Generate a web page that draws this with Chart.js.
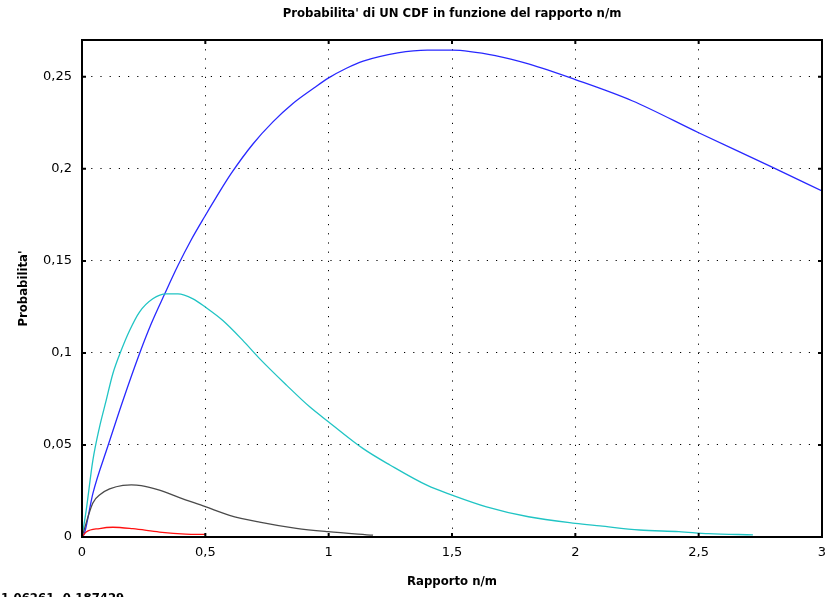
<!DOCTYPE html>
<html>
<head>
<meta charset="utf-8">
<script src="https://cdn.jsdelivr.net/npm/chart.js@4"></script>
<style>body{margin:0;background:#fff}</style>
</head>
<body>
<canvas id="myChart" width="827" height="597"></canvas>
<script>
let titolo = "Probabilita' di UN CDF in funzione del rapporto n/m"
let xTicks = [0, 0.5, 1, 1.5, 2, 2.5, 3]
let yTicks = [0, 0.05, 0.1, 0.15, 0.2, 0.25]

// curve (x = rapporto n/m, y = probabilita')
let blueX = [0, 0.01, 0.044, 0.105, 0.166, 0.233, 0.281, 0.335, 0.389, 0.443, 0.497, 0.544, 0.605, 0.693, 0.774, 0.855, 0.936, 1.0, 1.07, 1.14, 1.28, 1.4, 1.5, 1.68, 1.81, 2.0, 2.23, 2.5, 2.8, 3.0]
let blueY = [0, 0.002, 0.0236, 0.0494, 0.0742, 0.0996, 0.116, 0.132, 0.1475, 0.1615, 0.174, 0.1845, 0.1975, 0.2135, 0.2255, 0.2355, 0.2435, 0.2494, 0.2545, 0.2585, 0.263, 0.2645, 0.2645, 0.2614, 0.257, 0.2485, 0.237, 0.2196, 0.2008, 0.188]

let cyanX = [0, 0.017, 0.044, 0.071, 0.098, 0.125, 0.159, 0.193, 0.233, 0.287, 0.342, 0.389, 0.45, 0.5, 0.571, 0.652, 0.72, 0.829, 0.923, 1.0, 1.14, 1.25, 1.4, 1.5, 1.64, 1.81, 2.0, 2.1, 2.26, 2.42, 2.54, 2.72]
let cyanY = [0, 0.0145, 0.0416, 0.0597, 0.0742, 0.0887, 0.1014, 0.1122, 0.1222, 0.1294, 0.1321, 0.1321, 0.1294, 0.1249, 0.1176, 0.1068, 0.0969, 0.0825, 0.0707, 0.0625, 0.048, 0.039, 0.028, 0.0228, 0.0164, 0.011, 0.0074, 0.006, 0.0038, 0.0029, 0.0018, 0.0012]

let blackX = [0, 0.044, 0.075, 0.112, 0.166, 0.2, 0.24, 0.314, 0.395, 0.5, 0.598, 0.72, 0.869, 0.997, 1.18]
let blackY = [0, 0.0185, 0.0232, 0.0261, 0.0281, 0.0283, 0.0279, 0.0254, 0.0214, 0.0165, 0.0118, 0.0081, 0.0047, 0.0029, 0.001]

let redX = [0, 0.017, 0.071, 0.125, 0.206, 0.314, 0.42, 0.5]
let redY = [0, 0.0027, 0.0046, 0.0053, 0.0045, 0.0027, 0.0016, 0.0014]

function punti(xs, ys) {
  return xs.map((x, i) => ({x: x, y: ys[i]}))
}

function serie(nome, xs, ys, colore) {
  return {
    label: nome,
    data: punti(xs, ys),
    borderColor: colore,
    backgroundColor: colore,
    borderWidth: 1.3,
    pointRadius: 0,
    showLine: true,
    cubicInterpolationMode: 'monotone'
  }
}

function virgola(v) {
  return String(+v.toFixed(2)).replace('.', ',')
}

// riquadro, tacche interne e testi stile octave
let octavePlugin = {
  id: 'octave',
  afterDraw(chart) {
    let ctx = chart.ctx
    let a = chart.chartArea
    let sx = chart.scales.x
    let sy = chart.scales.y
    ctx.save()
    ctx.strokeStyle = '#000'
    ctx.lineWidth = 2
    ctx.strokeRect(a.left, a.top, a.right - a.left, a.bottom - a.top)
    ctx.beginPath()
    xTicks.forEach(v => {
      let px = sx.getPixelForValue(v)
      ctx.moveTo(px, a.bottom); ctx.lineTo(px, a.bottom - 4)
      ctx.moveTo(px, a.top); ctx.lineTo(px, a.top + 4)
    })
    yTicks.forEach(v => {
      let py = sy.getPixelForValue(v)
      ctx.moveTo(a.left, py); ctx.lineTo(a.left + 4, py)
      ctx.moveTo(a.right, py); ctx.lineTo(a.right - 4, py)
    })
    ctx.stroke()

    ctx.fillStyle = '#000'
    ctx.font = 'bold 13px "Liberation Sans Narrow", "DejaVu Sans Condensed", sans-serif'
    ctx.textAlign = 'center'
    ctx.textBaseline = 'middle'
    ctx.fillText(titolo, (a.left + a.right) / 2, 14)

    ctx.textAlign = 'left'
    ctx.textBaseline = 'top'
    ctx.fillText('1.06261, 0.187429', 1, 592)
    ctx.restore()
  }
}

let config = {
  type: 'scatter',
  data: {
    datasets: [
      serie('rosso', redX, redY, '#ff1010'),
      serie('nero', blackX, blackY, '#4a4a4a'),
      serie('ciano', cyanX, cyanY, '#20c4c4'),
      serie('blu', blueX, blueY, '#2828ff')
    ]
  },
  options: {
    responsive: false,
    animation: false,
    layout: {padding: {top: 40, right: 5, left: 0, bottom: 0}},
    plugins: {
      legend: {display: false},
      tooltip: {enabled: false}
    },
    scales: {
      x: {
        type: 'linear',
        min: 0,
        max: 3,
        afterBuildTicks: s => { s.ticks = xTicks.map(v => ({value: v})) },
        afterFit: s => { s.height = 60; s.paddingLeft = 0; s.paddingRight = 0 },
        grid: {color: '#000', lineWidth: 1, drawTicks: false},
        border: {display: false, dash: [1.2, 8]},
        ticks: {color: '#000', padding: 8, font: {size: 13}, callback: v => virgola(v), maxRotation: 0},
        title: {
          display: true,
          text: 'Rapporto n/m',
          color: '#000',
          font: {family: '"Liberation Sans Narrow", "DejaVu Sans Condensed", sans-serif', size: 13, weight: 'bold', lineHeight: 1.2},
          padding: {top: 0, bottom: 8}
        }
      },
      y: {
        type: 'linear',
        min: 0,
        max: 0.27,
        afterBuildTicks: s => { s.ticks = yTicks.map(v => ({value: v})) },
        afterFit: s => { s.width = 82 },
        grid: {color: '#000', lineWidth: 1, drawTicks: false},
        border: {display: false, dash: [1.2, 8]},
        ticks: {color: '#000', padding: 10, font: {size: 13}, callback: v => virgola(v)},
        title: {
          display: true,
          text: "Probabilita'",
          color: '#000',
          font: {family: '"Liberation Sans Narrow", "DejaVu Sans Condensed", sans-serif', size: 13, weight: 'bold', lineHeight: 1.2},
          padding: {top: 16, bottom: 0}
        }
      }
    }
  },
  plugins: [octavePlugin]
}

Chart.defaults.font.family = '"DejaVu Sans", sans-serif'
let myChart = new Chart(document.getElementById('myChart'), config)
</script>
</body>
</html>
